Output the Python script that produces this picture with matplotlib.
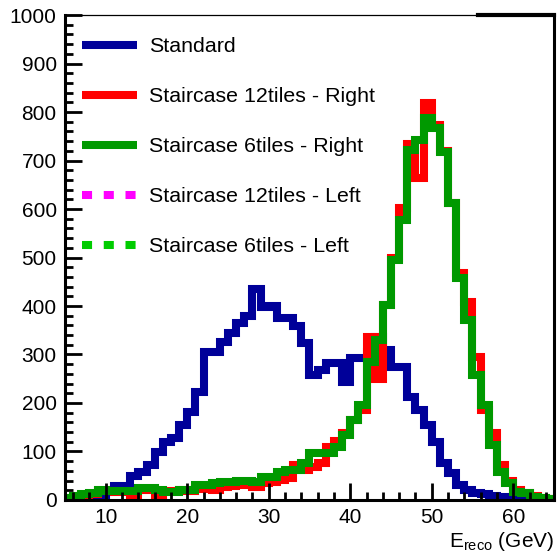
import numpy as np
import matplotlib
matplotlib.use("Agg")
import matplotlib.pyplot as plt
from matplotlib.lines import Line2D
from matplotlib.ticker import MultipleLocator

plt.rcParams["font.family"] = ["Liberation Sans", "DejaVu Sans"]

# 1 GeV bins from 5 to 65 GeV
edges = np.arange(5, 66, 1)

standard = [2, 3, 5, 8, 10, 18, 29, 29, 50, 58,
            72, 99, 120, 128, 155, 181, 223, 305, 305, 326,
            345, 365, 380, 435, 398, 400, 375, 375, 358, 323,
            258, 268, 282, 282, 243, 293, 293, 305, 336, 309,
            274, 274, 212, 186, 155, 120, 76, 56, 31, 21,
            14, 12, 8, 6, 4, 3, 2, 2, 1, 1]

stair12_right = [3, 6, 10, 13, 18, 19, 17, 16, 8, 21,
                 22, 8, 19, 19, 20, 18, 22, 25, 21, 27,
                 28, 30, 33, 27, 35, 38, 41, 45, 72, 62,
                 68, 76, 109, 122, 138, 165, 186, 336, 250, 402,
                 500, 602, 735, 665, 818, 773, 720, 612, 468, 408,
                 295, 185, 138, 72, 40, 20, 14, 8, 5, 3]

stair6_right = [4, 8, 12, 14, 21, 19, 19, 19, 19, 25,
                25, 21, 17, 17, 21, 21, 31, 31, 35, 37,
                37, 39, 39, 37, 47, 47, 58, 62, 62, 76,
                97, 97, 97, 109, 134, 165, 196, 285, 330, 402,
                495, 577, 722, 742, 787, 767, 718, 612, 458, 371,
                258, 196, 113, 58, 35, 17, 14, 6, 4, 2]

labels = ["Standard", "Staircase 12tiles - Right", "Staircase 6tiles - Right",
          "Staircase 12tiles - Left", "Staircase 6tiles - Left"]
colors = ["#000099", "#ff0000", "#009900", "#ff00ff", "#00cc00"]

LW = 5.8

fig = plt.figure(figsize=(5.58, 5.58), dpi=100)
ax = fig.add_axes([0.1165, 0.104, 0.8763, 0.869])

for vals, c in zip([standard, stair12_right, stair6_right], colors[:3]):
    p = ax.stairs(vals, edges, baseline=None, color=c, lw=LW)
    p.set_joinstyle("miter")
    p.set_capstyle("butt")

ax.set_xlim(5, 65)
ax.set_ylim(0, 1000)

ax.xaxis.set_major_locator(MultipleLocator(10))
ax.xaxis.set_minor_locator(MultipleLocator(2))
ax.yaxis.set_major_locator(MultipleLocator(100))
ax.yaxis.set_minor_locator(MultipleLocator(20))
ax.tick_params(which="both", direction="in", top=False, right=False,
               labelsize=15, width=2)
ax.tick_params(which="major", length=12, pad=6)
ax.tick_params(which="minor", length=6)

for s in ["left", "bottom", "right"]:
    ax.spines[s].set_linewidth(2.2)
ax.spines["top"].set_linewidth(0.9)
ax.axhline(1000, xmin=0.845, xmax=1.0, color="k", lw=3, clip_on=False)

handles = [Line2D([], [], color=colors[0], lw=LW, solid_capstyle="butt"),
           Line2D([], [], color=colors[1], lw=LW, solid_capstyle="butt"),
           Line2D([], [], color=colors[2], lw=LW, solid_capstyle="butt"),
           Line2D([], [], color=colors[3], lw=LW, ls=(0, (1.25, 1.45)),
                  dash_capstyle="butt"),
           Line2D([], [], color=colors[4], lw=LW, ls=(0, (1.25, 1.45)),
                  dash_capstyle="butt")]
ax.legend(handles, labels, loc="upper left", bbox_to_anchor=(0.0, 0.99),
          frameon=False, fontsize=15.4, handlelength=2.58, handletextpad=0.53,
          labelspacing=1.45, borderaxespad=0.4)

ax.set_xlabel("E$_{\\mathregular{reco}}$ (GeV)", fontsize=15, loc="right",
              labelpad=2)

fig.savefig("out.png", dpi=100)
